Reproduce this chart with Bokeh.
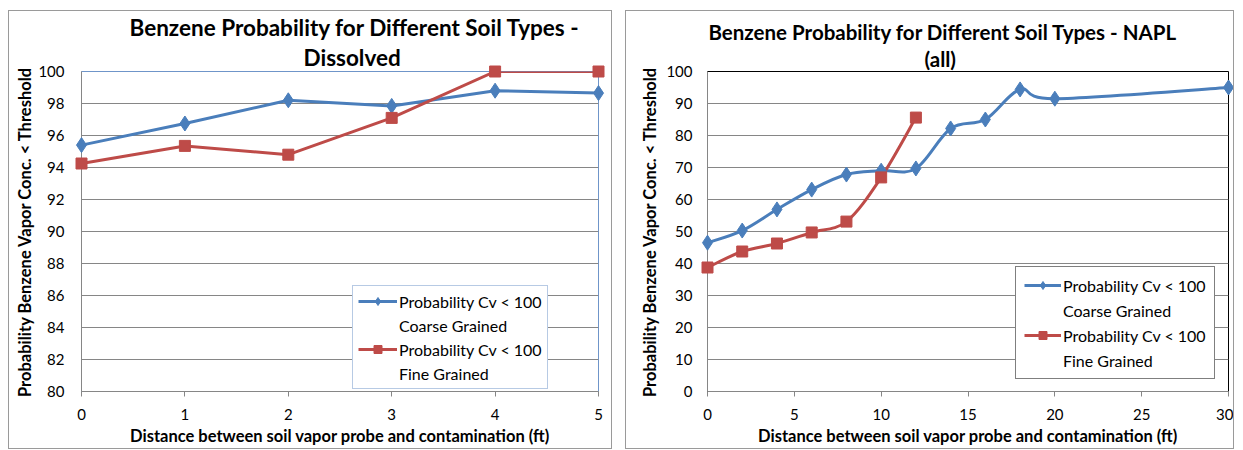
import numpy as np
from bokeh.plotting import figure
from bokeh.models import Range1d, FixedTicker, Title, Legend, LegendItem
from bokeh.layouts import row
from bokeh.embed import file_html
from bokeh.resources import INLINE

# ---------------- data ----------------
# Left chart: Dissolved
dis_x = [0, 1, 2, 3, 4, 5]
dis_coarse = [95.4, 96.75, 98.2, 97.85, 98.8, 98.65]
dis_fine = [94.25, 95.35, 94.8, 97.1, 100.0, 100.0]
dis_xticks = [0, 1, 2, 3, 4, 5]
dis_yticks = [80, 82, 84, 86, 88, 90, 92, 94, 96, 98, 100]

# Right chart: NAPL (all)
napl_coarse_x = [0, 2, 4, 6, 8, 10, 12, 14, 16, 18, 20, 30]
napl_coarse_y = [46.5, 50.3, 56.9, 63.1, 67.8, 69.0, 69.7, 82.2, 85.0, 94.4, 91.5, 95.0]
napl_fine_x = [0, 2, 4, 6, 8, 10, 12]
napl_fine_y = [38.75, 43.75, 46.25, 49.7, 53.1, 66.9, 85.6]
napl_xticks = [0, 5, 10, 15, 20, 25, 30]
napl_yticks = [0, 10, 20, 30, 40, 50, 60, 70, 80, 90, 100]

title_dis = ["Benzene Probability for Different Soil Types -", "Dissolved"]
title_napl = ["Benzene Probability for Different Soil Types - NAPL", "(all)"]
x_label = "Distance between soil vapor probe and contamination (ft)"
y_label = "Probability Benzene Vapor Conc. < Threshold"
legend_line1 = ["Probability Cv < 100", "Probability Cv < 100"]
legend_line2 = ["Coarse Grained", "Fine Grained"]

BLUE = "#4a7ebb"
RED = "#be4b48"
GRID = "#868686"
FONT = "Lato"


def smooth_segments(x, y):
    x = np.asarray(x, float)
    y = np.asarray(y, float)
    n = len(x)
    xp = np.concatenate([[x[0]], x, [x[-1]]])
    yp = np.concatenate([[y[0]], y, [y[-1]]])
    return dict(
        x0=x[:-1], y0=y[:-1], x1=x[1:], y1=y[1:],
        cx0=x[:-1] + (xp[2:n + 1] - xp[0:n - 1]) / 6.0,
        cy0=y[:-1] + (yp[2:n + 1] - yp[0:n - 1]) / 6.0,
        cx1=x[1:] - (xp[3:n + 2] - xp[1:n]) / 6.0,
        cy1=y[1:] - (yp[3:n + 2] - yp[1:n]) / 6.0,
    )


def base_fig(width, min_left, min_right, xr, yr, xticks, yticks, outline, margin,
             titles, title_offsets, title_size, ytick_standoff, ylabel_standoff):
    p = figure(width=width, height=439, x_range=Range1d(*xr), y_range=Range1d(*yr),
               toolbar_location=None, output_backend="svg", title=None,
               min_border_left=min_left, min_border_right=min_right,
               min_border_top=60, min_border_bottom=59, margin=margin,
               styles={"border": "1px solid #9a9a9a"})
    p.xaxis.ticker = FixedTicker(ticks=xticks)
    p.yaxis.ticker = FixedTicker(ticks=yticks)
    p.xaxis.major_tick_out = 5
    p.xaxis.major_tick_in = 0
    p.yaxis.major_tick_out = 0
    p.yaxis.major_tick_in = 0
    p.axis.minor_tick_out = 0
    p.axis.minor_tick_in = 0
    p.axis.axis_line_color = GRID
    p.axis.major_tick_line_color = GRID
    p.axis.major_label_text_font = FONT
    p.axis.major_label_text_font_size = "15px"
    p.axis.major_label_text_color = "black"
    p.yaxis.major_label_standoff = ytick_standoff
    p.xaxis.major_label_standoff = 12
    p.xaxis.axis_label = x_label
    p.yaxis.axis_label = y_label
    p.axis.axis_label_text_font = FONT
    p.axis.axis_label_text_font_size = "16.5px"
    p.axis.axis_label_text_font_style = "bold"
    p.axis.axis_label_text_color = "black"
    p.xaxis.axis_label_standoff = 3
    p.yaxis.axis_label_standoff = ylabel_standoff
    p.xgrid.visible = False
    p.ygrid.grid_line_color = GRID
    p.ygrid.grid_line_width = 1
    p.outline_line_color = outline
    p.outline_line_width = 1
    p.background_fill_color = "white"
    t2 = Title(text=titles[1], align="left", offset=title_offsets[1], text_font=FONT,
               text_font_size=title_size, text_font_style="bold", text_color="black", standoff=2)
    t1 = Title(text=titles[0], align="left", offset=title_offsets[0], text_font=FONT,
               text_font_size=title_size, text_font_style="bold", text_color="black", standoff=0)
    p.add_layout(t2, "above")
    p.add_layout(t1, "above")
    return p


def make_legend(p, rend_a, rend_b, location, border, padding, glyph_width, spacing):
    blank = p.line(x=[], y=[], line_alpha=0)
    items = [LegendItem(label=legend_line1[0], renderers=rend_a),
             LegendItem(label=legend_line2[0], renderers=[blank]),
             LegendItem(label=legend_line1[1], renderers=rend_b),
             LegendItem(label=legend_line2[1], renderers=[blank])]
    leg = Legend(items=items, location=location, border_line_color=border, border_line_width=1,
                 label_text_font=FONT, label_text_font_size="16px", label_text_color="black",
                 glyph_width=glyph_width, glyph_height=20, label_height=20, label_standoff=2,
                 padding=padding, spacing=spacing, margin=0, background_fill_alpha=1.0)
    p.add_layout(leg)


# ---------------- left chart ----------------
p1 = base_fig(604, 72, 15, (0, 5), (80, 100), dis_xticks, dis_yticks, "#6f95c9",
              (10, 0, 0, 8), title_dis, (48, 222), "22.5px", 17, 0)
l1 = p1.line(dis_x, dis_coarse, line_color=BLUE, line_width=3)
s1 = p1.scatter(dis_x, dis_coarse, marker="diamond", size=15, fill_color=BLUE, line_color=BLUE)
l2 = p1.line(dis_x, dis_fine, line_color=RED, line_width=3)
s2 = p1.scatter(dis_x, dis_fine, marker="square", size=11, fill_color=RED, line_color=RED)
s1.level = "overlay"
s2.level = "overlay"
make_legend(p1, [l1, s1], [l2, s2], (271, 2), "#6f95c9", 5, 39, 4)

# ---------------- right chart ----------------
p2 = base_fig(609, 81, 7, (0, 30), (0, 100), napl_xticks, napl_yticks, "black",
              (10, 0, 0, 13), title_napl, (1, 217), "20.5px", 15, 3)
seg_c = smooth_segments(napl_coarse_x, napl_coarse_y)
seg_f = smooth_segments(napl_fine_x, napl_fine_y)
b1 = p2.bezier(x0=seg_c["x0"], y0=seg_c["y0"], x1=seg_c["x1"], y1=seg_c["y1"],
               cx0=seg_c["cx0"], cy0=seg_c["cy0"], cx1=seg_c["cx1"], cy1=seg_c["cy1"],
               line_color=BLUE, line_width=3)
s3 = p2.scatter(napl_coarse_x, napl_coarse_y, marker="diamond", size=15, fill_color=BLUE, line_color=BLUE)
b2 = p2.bezier(x0=seg_f["x0"], y0=seg_f["y0"], x1=seg_f["x1"], y1=seg_f["y1"],
               cx0=seg_f["cx0"], cy0=seg_f["cy0"], cx1=seg_f["cx1"], cy1=seg_f["cy1"],
               line_color=RED, line_width=3)
s4 = p2.scatter(napl_fine_x, napl_fine_y, marker="square", size=11, fill_color=RED, line_color=RED)
s3.level = "overlay"
s4.level = "overlay"
make_legend(p2, [b1, s3], [b2, s4], (308, 12), "black", 8, 37, 5)

layout = row(p1, p2)
open("out.html", "w").write(file_html(layout, INLINE))
